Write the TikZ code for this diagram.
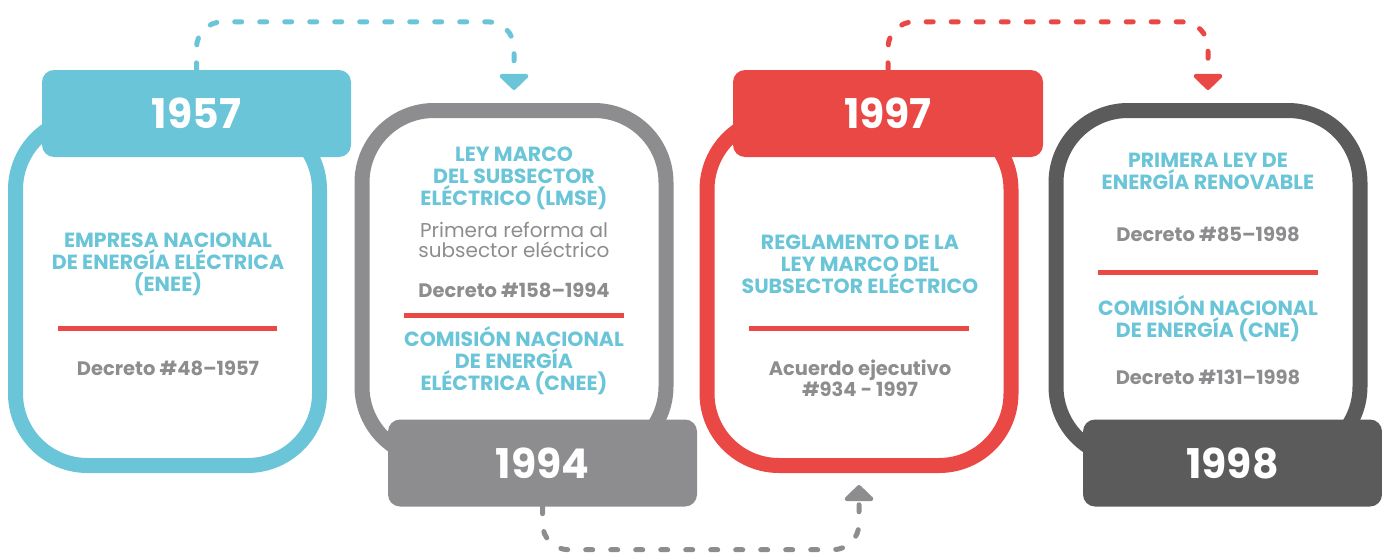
\documentclass[tikz,border=0pt]{standalone}
\usepackage{fontspec}
\setmainfont{Poppins}
\usepackage{tikz}
\usetikzlibrary{positioning,arrows.meta}
\definecolor{leyCyan}{RGB}{105,197,215}
\definecolor{leyGray}{RGB}{141,141,143}
\definecolor{leyRed}{RGB}{233,72,69}
\definecolor{leyDark}{RGB}{91,91,91}
\tikzstyle{timeline} = [x = 1pt, y = -1pt]
\tikzstyle{frameStyle} = [draw, line width=15pt, rounded corners=72pt, minimum width=304pt, minimum height=348pt, inner sep=0pt]
\tikzstyle{tabStyle} = [rounded corners=12pt, minimum height=87pt, inner sep=0pt, text=white, font=\fontsize{41}{41}\selectfont\bfseries]
\tikzstyle{titleText} = [text=leyCyan, align=center, font=\fontsize{20.5}{22}\selectfont\bfseries]
\tikzstyle{decretoText} = [text=leyGray, align=center, font=\fontsize{19.5}{20.5}\selectfont\bfseries]
\tikzstyle{noteText} = [text=leyGray, align=center, font=\fontsize{20}{20.5}\selectfont]
\tikzstyle{ruleStyle} = [color=leyRed, line width=5pt]
\tikzstyle{linkStyle} = [line width=5pt, line cap=round, dash pattern=on 7pt off 18pt, rounded corners=26pt, -{Triangle[width=34pt,length=17pt,round]}]
\newcommand{\frameBox}[4]{\node [frameStyle, draw=#4] (#1) at (#2, #3) {};}
\newcommand{\yearTab}[6]{\node [tabStyle, fill=#4, minimum width=#5] (#1) at (#2, #3) {#6};}
\newcommand{\redRule}[3]{\draw [ruleStyle] (#1, #3) -- (#2, #3);}

\begin{document}
\begin{tikzpicture}[timeline]
  \useasboundingbox (0,0) rectangle (1382,554);
  \frameBox{f1957}{167.5}{291.5}{leyCyan}
  \frameBox{f1994}{514}{284.5}{leyGray}
  \frameBox{f1997}{859}{291.5}{leyRed}
  \frameBox{f1998}{1208}{284.5}{leyDark}

  \yearTab{t1957}{196.5}{113.5}{leyCyan}{309pt}{1957}
  \yearTab{t1994}{542.5}{463}{leyGray}{309pt}{1994}
  \yearTab{t1997}{888}{113.5}{leyRed}{310pt}{1997}
  \yearTab{t1998}{1232.5}{463}{leyDark}{299pt}{1998}

  \node [titleText] (enee) at (168, 264.5) {EMPRESA NACIONAL\\DE ENERGÍA ELÉCTRICA\\(ENEE)};
  \redRule{58}{277}{328}
  \node [decretoText] (d1957) at (168, 368) {Decreto \#48–1957};

  \node [titleText] (lmse) at (514, 178.5) {LEY MARCO\\DEL SUBSECTOR\\ELÉCTRICO (LMSE)};
  \node [noteText] (reforma) at (514, 240) {Primera reforma al\\subsector eléctrico};
  \node [decretoText] (d1994) at (514, 290) {Decreto \#158–1994};
  \redRule{404}{624}{315}
  \node [titleText] (cnee) at (514, 360.5) {COMISIÓN NACIONAL\\DE ENERGÍA\\ELÉCTRICA (CNEE)};

  \node [titleText] (reglamento) at (860, 264.5) {REGLAMENTO DE LA\\LEY MARCO DEL\\SUBSECTOR ELÉCTRICO};
  \redRule{749}{969}{328}
  \node [decretoText] (acuerdo) at (860, 378) {Acuerdo ejecutivo\\\#934 - 1997};

  \node [titleText] (renovable) at (1208, 171) {PRIMERA LEY DE\\ENERGÍA RENOVABLE};
  \node [decretoText] (d85) at (1208, 234) {Decreto \#85–1998};
  \redRule{1098}{1318}{272}
  \node [titleText] (cne) at (1208, 319) {COMISIÓN NACIONAL\\DE ENERGÍA (CNE)};
  \node [decretoText] (d131) at (1208, 377) {Decreto \#131–1998};

  \draw [linkStyle, leyCyan, shorten >=13pt] (t1957.north) -- ++(0,-48) -| (f1994.north);
  \draw [linkStyle, leyRed, shorten >=13pt] (t1997.north) -- ++(0,-48) -| (f1998.north);
  \draw [linkStyle, leyGray, shorten >=12pt] (t1994.south) -- ++(0,43) -| (f1997.south);
\end{tikzpicture}
\end{document}
